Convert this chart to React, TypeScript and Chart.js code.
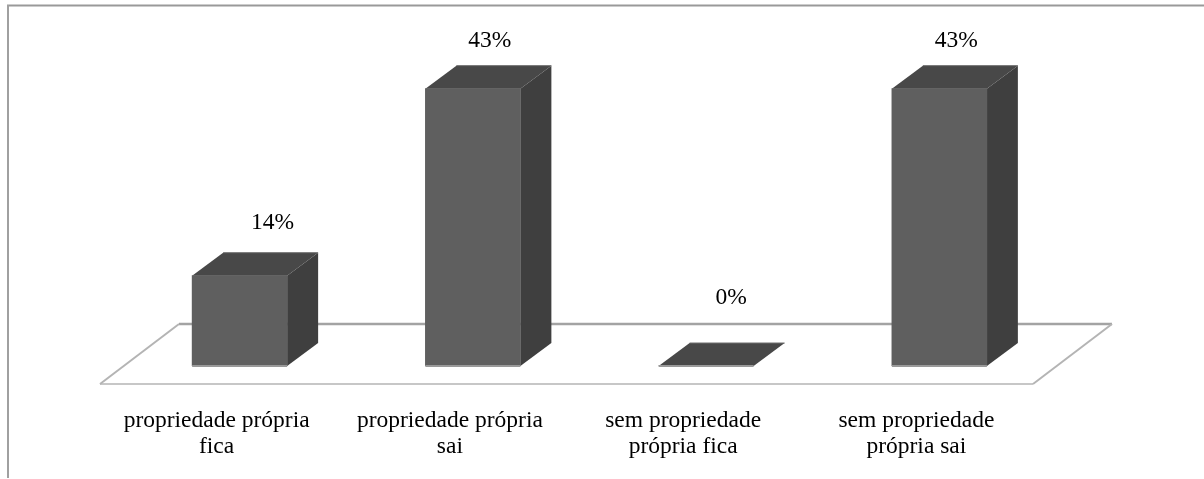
import React, { useEffect, useRef } from "react";
import { Chart, registerables } from "chart.js";

Chart.register(...registerables);

const categories: string[][] = [
  ["propriedade própria", "fica"],
  ["propriedade própria", "sai"],
  ["sem propriedade", "própria fica"],
  ["sem propriedade", "própria sai"],
];
const percentages: number[] = [14, 43, 0, 43];

const FONT = '"Liberation Serif", "Times New Roman", serif';
// offset of the front bar plane from the front floor edge
const BAR_SHIFT_X = 23;
const BAR_SHIFT_Y = 18;
// bar depth
const DEPTH_X = 31;
const DEPTH_Y = 23;
// floor depth
const FLOOR_X = 79;
const FLOOR_Y = 60;
// value labels, relative to the front face's centre and top
const labelNudgeX = [33, 17, 25, 17];
const labelLift = [53, 48, 68, 48];

const poly = (ctx: CanvasRenderingContext2D, pts: number[][], fill: string) => {
  ctx.beginPath();
  pts.forEach(([x, y], i) => (i ? ctx.lineTo(x, y) : ctx.moveTo(x, y)));
  ctx.closePath();
  ctx.fillStyle = fill;
  ctx.fill();
};

const line = (ctx: CanvasRenderingContext2D, x1: number, y1: number, x2: number, y2: number, color: string, w: number) => {
  ctx.beginPath();
  ctx.moveTo(x1, y1);
  ctx.lineTo(x2, y2);
  ctx.strokeStyle = color;
  ctx.lineWidth = w;
  ctx.stroke();
};

const bars3d = {
  id: "bars3d",
  beforeDraw(chart: any) {
    const { ctx, width, height } = chart;
    ctx.save();
    line(ctx, 7, 5.5, width, 5.5, "#999999", 2);
    line(ctx, 8, 5, 8, height - 1, "#a0a0a0", 2);
    ctx.restore();
  },
  beforeDatasetsDraw(chart: any) {
    const { ctx, chartArea: a } = chart;
    ctx.save();
    line(ctx, a.left, a.bottom, a.right, a.bottom, "#b4b4b4", 1.5);
    line(ctx, a.left + FLOOR_X, a.bottom - FLOOR_Y, a.right + FLOOR_X, a.bottom - FLOOR_Y, "#a3a3a3", 2.5);
    line(ctx, a.left, a.bottom, a.left + FLOOR_X, a.bottom - FLOOR_Y, "#b4b4b4", 2);
    line(ctx, a.right, a.bottom, a.right + FLOOR_X, a.bottom - FLOOR_Y, "#b4b4b4", 2);
    ctx.restore();
    ctx.save();
    ctx.translate(BAR_SHIFT_X, -BAR_SHIFT_Y);
    chart.getDatasetMeta(0).data.forEach((b: any) => {
      const l = b.x - b.width / 2;
      const r = b.x + b.width / 2;
      const t = b.y;
      const bt = b.base;
      poly(ctx, [[r, t], [r + DEPTH_X, t - DEPTH_Y], [r + DEPTH_X, bt - DEPTH_Y], [r, bt]], "#3f3f3f");
      poly(ctx, [[l, t], [l + DEPTH_X, t - DEPTH_Y], [r + DEPTH_X, t - DEPTH_Y], [r, t]], "#484848");
      line(ctx, l + DEPTH_X, t - DEPTH_Y, r + DEPTH_X, t - DEPTH_Y, "#6e6e6e", 1);
    });
  },
  afterDatasetsDraw(chart: any) {
    const { ctx } = chart;
    chart.getDatasetMeta(0).data.forEach((b: any) => {
      line(ctx, b.x - b.width / 2, b.base, b.x + b.width / 2, b.base, "#999999", 2);
    });
    ctx.restore();
  },
  afterDraw(chart: any) {
    const { ctx } = chart;
    ctx.save();
    ctx.font = `23.5px ${FONT}`;
    ctx.fillStyle = "#000000";
    ctx.textAlign = "center";
    ctx.textBaseline = "middle";
    chart.getDatasetMeta(0).data.forEach((b: any, i: number) => {
      ctx.fillText(
        `${percentages[i]}%`,
        b.x + BAR_SHIFT_X + labelNudgeX[i],
        b.y - BAR_SHIFT_Y - labelLift[i]
      );
    });
    ctx.restore();
  },
};

export default function App() {
  const ref = useRef<HTMLCanvasElement>(null);
  useEffect(() => {
    document.body.style.margin = "0";
    document.body.style.background = "#ffffff";
    const chart = new Chart(ref.current!, {
      type: "bar",
      data: {
        labels: categories as any,
        datasets: [
          {
            data: percentages,
            backgroundColor: "#5f5f5f",
            borderWidth: 0,
            barThickness: 95,
          },
        ],
      },
      plugins: [bars3d],
      options: {
        animation: false,
        responsive: false,
        layout: { padding: { left: 100, right: 171, top: 61.5, bottom: 0 } },
        plugins: { legend: { display: false }, tooltip: { enabled: false }, title: { display: false } },
        scales: {
          x: {
            grid: { display: false },
            border: { display: false },
            afterFit(scale: any) {
              scale.height = 95;
            },
            ticks: {
              autoSkip: false,
              maxRotation: 0,
              minRotation: 0,
              color: "#000000",
              padding: 15,
              font: { family: FONT, size: 23.5, lineHeight: 1.14 },
            },
          },
          y: {
            display: false,
            min: 0,
            max: 50,
          },
        },
      },
    } as any);
    return () => chart.destroy();
  }, []);
  return (
    <canvas
      ref={ref}
      width={1204}
      height={479}
      style={{ display: "block", width: 1204, height: 479 }}
    />
  );
}
